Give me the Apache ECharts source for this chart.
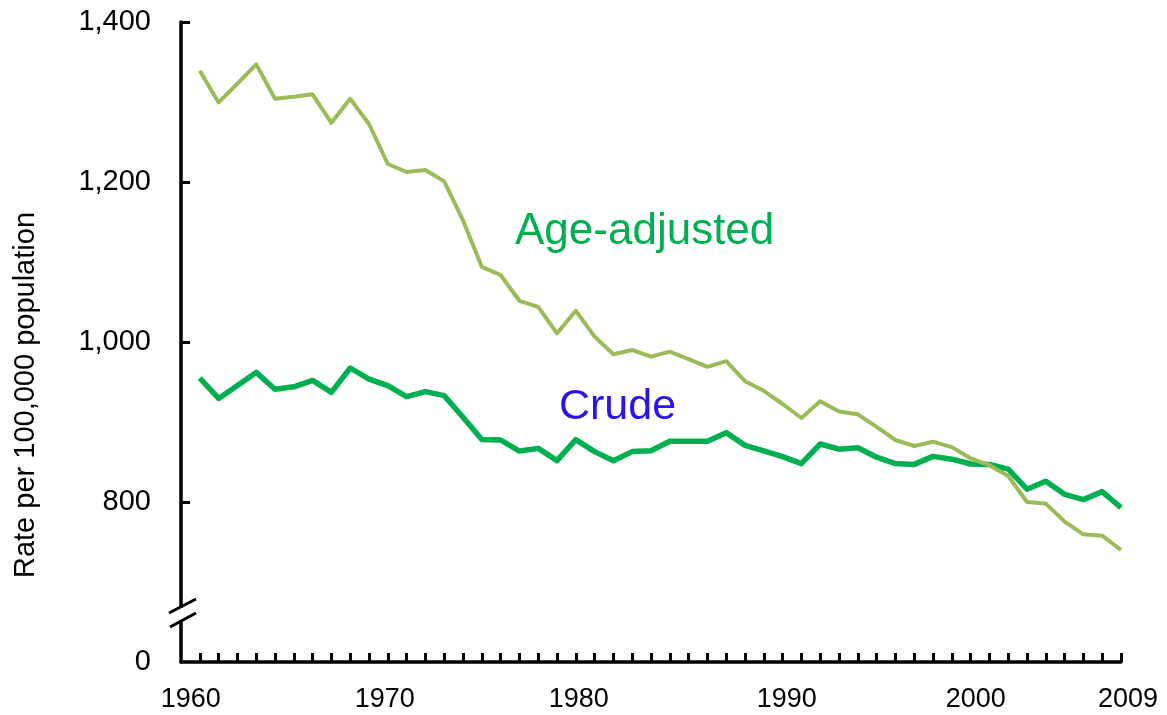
<!DOCTYPE html>
<html>
<head>
<meta charset="utf-8">
<script src="https://cdn.jsdelivr.net/npm/echarts@6/dist/echarts.min.js"></script>
<style>
    html, body { margin: 0; padding: 0; background: #fff; }
    #chart { width: 1167px; height: 715px; }
</style>
</head>
<body>
<div id="chart"></div>
<script>
// years on the x axis
var years = [1960, 1961, 1962, 1963, 1964, 1965, 1966, 1967, 1968, 1969,
    1970, 1971, 1972, 1973, 1974, 1975, 1976, 1977, 1978, 1979,
    1980, 1981, 1982, 1983, 1984, 1985, 1986, 1987, 1988, 1989,
    1990, 1991, 1992, 1993, 1994, 1995, 1996, 1997, 1998, 1999,
    2000, 2001, 2002, 2003, 2004, 2005, 2006, 2007, 2008, 2009];

// rate per 100,000 population
var ageAdjusted = [1339, 1299.5, 1323, 1347, 1304, 1306.7, 1309.6, 1274, 1304, 1272.5,
    1222.5, 1212.5, 1215, 1200.8, 1152, 1094, 1083.7, 1051.5, 1044, 1010.8,
    1039, 1006.7, 984.6, 990, 981.7, 987.9, 978.7, 969, 976, 951,
    939, 922.5, 905, 926, 913, 909.6, 894, 877.5, 870, 875.4,
    868.6, 854.6, 846, 832.5, 800, 798, 775.4, 759.6, 757.9, 740];

var crude = [954.7, 929.5, 945.5, 962, 941, 944, 952, 937, 967.5, 953.7,
    945.4, 931.7, 938, 933, 906, 878, 877.5, 863.7, 867, 851.7,
    878, 863, 851.6, 863, 864, 876, 876, 876, 886.7, 870.8,
    864, 856.7, 848, 872.5, 866, 867.9, 856, 848, 847, 857,
    853.5, 847.5, 847, 841, 816, 826, 809.6, 803, 813, 793];

var xLabels = [1960, 1970, 1980, 1990, 2000, 2009];
var yTicks = [800, 1000, 1200, 1400];

// the bottom of the axis (600) stands for 0 behind the break
var yBase = 600;

var FONT = '"Liberation Sans", Arial, sans-serif';

function pairs(vals) {
    return years.map(function (y, i) { return [y, vals[i]]; });
}

// small nudges so the year labels sit like in the original
var labelShift = { 1960: [0, 18, 0, 0], 1970: [0, 6, 0, 0], 1980: [0, 0, 0, 6],
    1990: [0, 0, 0, 46], 2000: [0, 0, 0, 48], 2009: [0, 0, 0, 14] };
var rich = {};
Object.keys(labelShift).forEach(function (k) {
    rich['y' + k] = { fontSize: 27, fontFamily: FONT, color: '#000', padding: labelShift[k] };
});

var myChart = echarts.init(document.getElementById('chart'));

var option = {
    animation: false,
    backgroundColor: '#fff',
    grid: { left: 181, right: 46, top: 22, bottom: 53, containLabel: false },
    xAxis: {
        type: 'value',
        min: 1959,
        max: 2009,
        splitLine: { show: false },
        axisLine: { lineStyle: { color: '#000', width: 3.5 } },
        axisTick: {
            inside: true, length: 9, customValues: years,
            lineStyle: { color: '#000', width: 3 }
        },
        axisLabel: {
            customValues: xLabels,
            margin: 24,
            formatter: function (v) { return '{y' + v + '|' + v + '}'; },
            rich: rich
        }
    },
    yAxis: {
        type: 'value',
        min: yBase,
        max: 1400,
        interval: 200,
        splitLine: { show: false },
        axisLine: { show: true, lineStyle: { color: '#000', width: 3.5 } },
        axisTick: {
            inside: true, length: 9, customValues: yTicks,
            lineStyle: { color: '#000', width: 3 }
        },
        axisLabel: {
            margin: 30,
            fontSize: 29,
            fontFamily: FONT,
            color: '#000',
            formatter: function (v) {
                if (v === yBase) return '0';
                return v.toLocaleString('en-US');
            }
        }
    },
    series: [{
        name: 'Crude',
        type: 'line',
        data: pairs(crude),
        showSymbol: false,
        symbol: 'none',
        lineStyle: { color: '#00B050', width: 5.5, join: 'round' },
        z: 2
    }, {
        name: 'Age-adjusted',
        type: 'line',
        data: pairs(ageAdjusted),
        showSymbol: false,
        symbol: 'none',
        lineStyle: { color: '#9BBB59', width: 4, join: 'round' },
        z: 3
    }]
};

myChart.setOption(option);

// axis break, annotations and rotated axis title
var brk = myChart.convertToPixel({ gridIndex: 0 }, [1959, 660]);
var bx = brk[0], by = brk[1];

myChart.setOption({
    graphic: [{
        type: 'rect',
        shape: { x: bx - 4, y: by - 6, width: 8, height: 12 },
        style: { fill: '#fff' },
        z: 100
    }, {
        type: 'line',
        shape: { x1: bx - 12, y1: by - 1, x2: bx + 15, y2: by - 15 },
        style: { stroke: '#000', lineWidth: 3 },
        z: 101
    }, {
        type: 'line',
        shape: { x1: bx - 11, y1: by + 13, x2: bx + 15, y2: by - 1 },
        style: { stroke: '#000', lineWidth: 3 },
        z: 101
    }, {
        type: 'text',
        x: 515,
        y: 232,
        style: {
            text: 'Age-adjusted', fill: '#00B050',
            font: '44px ' + FONT, textAlign: 'left', textVerticalAlign: 'middle'
        },
        z: 110
    }, {
        type: 'text',
        x: 559,
        y: 407,
        style: {
            text: 'Crude', fill: '#2B13F0',
            font: '43px ' + FONT, textAlign: 'left', textVerticalAlign: 'middle'
        },
        z: 110
    }, {
        type: 'text',
        x: 26,
        y: 395,
        rotation: Math.PI / 2,
        style: {
            text: 'Rate per 100,000 population', fill: '#000',
            font: '29px ' + FONT, textAlign: 'center', textVerticalAlign: 'middle'
        },
        z: 110
    }]
});
</script>
</body>
</html>
